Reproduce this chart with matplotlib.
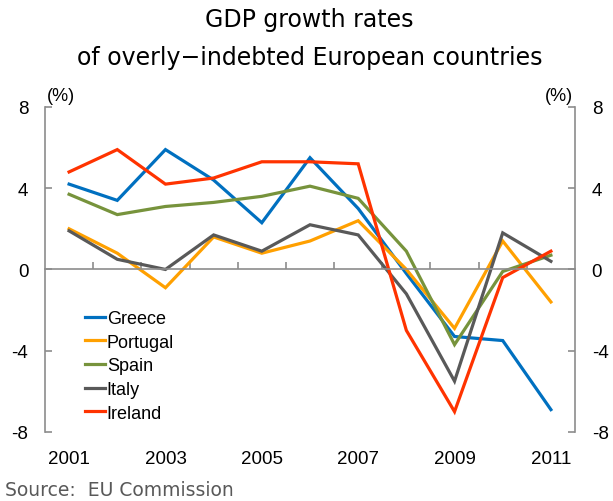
import matplotlib
matplotlib.use("Agg")
import matplotlib.pyplot as plt

plt.rcParams["axes.unicode_minus"] = False

# ── Data ──────────────────────────────────────────────────────────────
years = list(range(2001, 2012))
greece   = [4.2, 3.4, 5.9, 4.4, 2.3, 5.5, 3.0, -0.2, -3.3, -3.5, -6.9]
portugal = [2.0, 0.8, -0.9, 1.6, 0.8, 1.4, 2.4, 0.0, -2.9, 1.4, -1.6]
spain    = [3.7, 2.7, 3.1, 3.3, 3.6, 4.1, 3.5, 0.9, -3.7, -0.1, 0.7]
italy    = [1.9, 0.5, 0.0, 1.7, 0.9, 2.2, 1.7, -1.2, -5.5, 1.8, 0.4]
ireland  = [4.8, 5.9, 4.2, 4.5, 5.3, 5.3, 5.2, -3.0, -7.0, -0.4, 0.9]

series = [
    ("Greece", greece, "#0070C0"),
    ("Portugal", portugal, "#FFA000"),
    ("Spain", spain, "#77933C"),
    ("Italy", italy, "#595959"),
    ("Ireland", ireland, "#FF3300"),
]
year_labels = [2001, 2003, 2005, 2007, 2009, 2011]
y_ticks = [-8, -4, 0, 4, 8]

# ── Plot ──────────────────────────────────────────────────────────────
fig = plt.figure(figsize=(6.13, 5.02), dpi=100)
ax = fig.add_axes([0.0734, 0.1375, 0.8646, 0.6475])

for name, vals, color in series:
    ax.plot(years, vals, color=color, linewidth=2.3, label=name,
            solid_joinstyle="miter")

ax.set_xlim(2000.5, 2011.5)
ax.set_ylim(-8, 8)

axis_color = "#8c8c8c"
for side in ["left", "right", "bottom"]:
    ax.spines[side].set_color(axis_color)
    ax.spines[side].set_linewidth(1.2)
ax.spines["top"].set_visible(False)
ax.spines["bottom"].set_position(("data", 0))

ax.set_yticks(y_ticks)
ax.tick_params(axis="y", which="both", direction="in", length=5, width=1.2,
               color=axis_color, left=True, right=True,
               labelleft=True, labelright=True, labelsize=13.5, pad=12)

ax.set_xticks([y + 0.5 for y in years[:-1]])
ax.tick_params(axis="x", direction="in", length=5, width=1.2,
               color=axis_color, labelbottom=False)

sec = ax.secondary_xaxis(0)
sec.set_xticks(year_labels)
sec.spines["bottom"].set_visible(False)
sec.tick_params(length=0, labelsize=13.5, pad=13)

for lab in ax.get_yticklabels() + sec.get_xticklabels():
    lab.set_family("Liberation Sans")

ax.text(0.03, 1.035, "(%)", transform=ax.transAxes, fontsize=13,
        ha="center", va="center", family="Liberation Sans")
ax.text(0.97, 1.035, "(%)", transform=ax.transAxes, fontsize=13,
        ha="center", va="center", family="Liberation Sans")

ax.legend(loc="upper left", bbox_to_anchor=(0.045, 0.425), frameon=False,
          handlelength=1.1, handletextpad=0.1, labelspacing=0.37,
          prop={"family": "Liberation Sans", "size": 13})

fig.text(0.505, 0.96, "GDP growth rates", ha="center", va="center",
         fontsize=17, family="DejaVu Sans")
fig.text(0.505, 0.885, "of overly\u2212indebted European countries",
         ha="center", va="center", fontsize=17, family="DejaVu Sans")
fig.text(0.008, 0.022, "Source:  EU Commission", ha="left", va="center",
         fontsize=13.5, color="#595959", family="DejaVu Sans")

fig.savefig("out.png", dpi=100)
plt.close()
